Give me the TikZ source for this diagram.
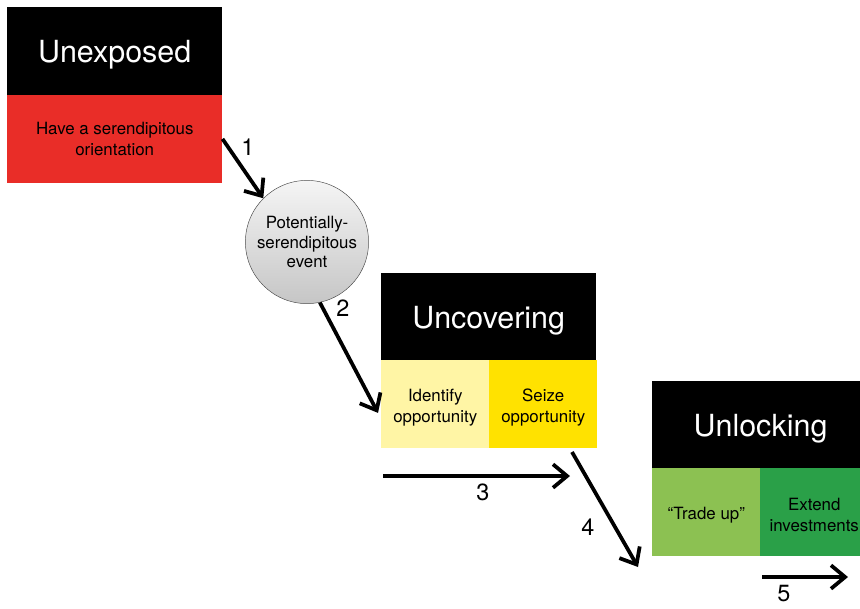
\documentclass[tikz,border=0pt]{standalone}
\usepackage{fontspec}
\setsansfont{TeX Gyre Heros}
\usetikzlibrary{arrows.meta}
\definecolor{orientred}{HTML}{E92D28}
\definecolor{paleyellow}{HTML}{FFF5A5}
\definecolor{seizeyellow}{HTML}{FFE200}
\definecolor{tradegreen}{HTML}{8CC152}
\definecolor{extendgreen}{HTML}{2AA048}

\begin{document}
\begin{tikzpicture}[x=0.03cm,y=-0.03cm,font=\sffamily,
    header/.style={fill=black,text=white,anchor=north west,inner sep=0pt,
        minimum width=6.45cm,minimum height=2.62cm,
        text height=20.4pt,text depth=0pt,
        font=\sffamily\fontsize{26}{30}\selectfont},
    cell/.style={anchor=north west,inner sep=0pt,align=center,
        minimum height=2.62cm,font=\sffamily\fontsize{14.4}{18}\selectfont},
    flow/.style={line width=3.2pt,-{Straight Barb[length=12pt,width=20pt]}},
    num/.style={font=\sffamily\fontsize{20}{24}\selectfont}]

    \clip (0,0) rectangle (860,608);
    \fill[white] (0,0) rectangle (860,608);

    % Stage 1
    \node[header] (unexposed) at (7,7) {Unexposed};
    \node[cell,fill=orientred,minimum width=6.45cm] (orient) at (7,95)
        {Have a serendipitous\\orientation};

    % The event
    \node[circle,draw=gray!60!black,thin,minimum size=3.6cm,align=center,
        top color=gray!8,bottom color=gray!45,
        font=\sffamily\fontsize{14.4}{16.8}\selectfont] (event) at (307,242)
        {Potentially-\\serendipitous\\event};

    % Stage 2
    \node[header] (uncovering) at (381,273) {Uncovering};
    \node[cell,fill=paleyellow,minimum width=3.24cm] (identify) at (381,360)
        {\raisebox{-3pt}[\height][\depth]{\parbox{3.2cm}{\centering Identify\\opportunity}}};
    \node[cell,fill=seizeyellow,minimum width=3.24cm] (seize) at (489,360)
        {\raisebox{-3pt}[\height][\depth]{\parbox{3.2cm}{\centering Seize\\opportunity}}};

    % Stage 3
    \node[header,minimum width=6.5cm] (unlocking) at (652,381) {Unlocking};
    \node[cell,fill=tradegreen,minimum width=3.24cm] (tradeup) at (652,468)
        {\raisebox{-3pt}[\height][\depth]{“Trade up”}};
    \node[cell,fill=extendgreen,minimum width=3.24cm] (extend) at (760,468)
        {\raisebox{-3pt}[\height][\depth]{\parbox{3.2cm}{\centering Extend\\investments}}};

    % Free ends of the arrows
    \coordinate (threeS) at (383,476);
    \coordinate (threeE) at (570,476);
    \coordinate (fourS) at (572,452);
    \coordinate (fourE) at (638,567);
    \coordinate (fiveS) at (762,577);
    \coordinate (fiveE) at (848,577);

    % Arrows
    \draw[flow] (orient.east) -- (event.135);
    \draw[flow] (event.-78) -- ([shift={(-3,9)}]identify.west);
    \draw[flow] (threeS) -- (threeE);
    \draw[flow] (fourS) -- (fourE);
    \draw[flow] (fiveS) -- (fiveE);

    % Step numbers
    \node[num] (n1) at (248,147) {1};
    \node[num] (n2) at (343,308) {2};
    \node[num] (n3) at (483,492) {3};
    \node[num] (n4) at (588,527) {4};
    \node[num] (n5) at (784,594) {5};
\end{tikzpicture}
\end{document}
